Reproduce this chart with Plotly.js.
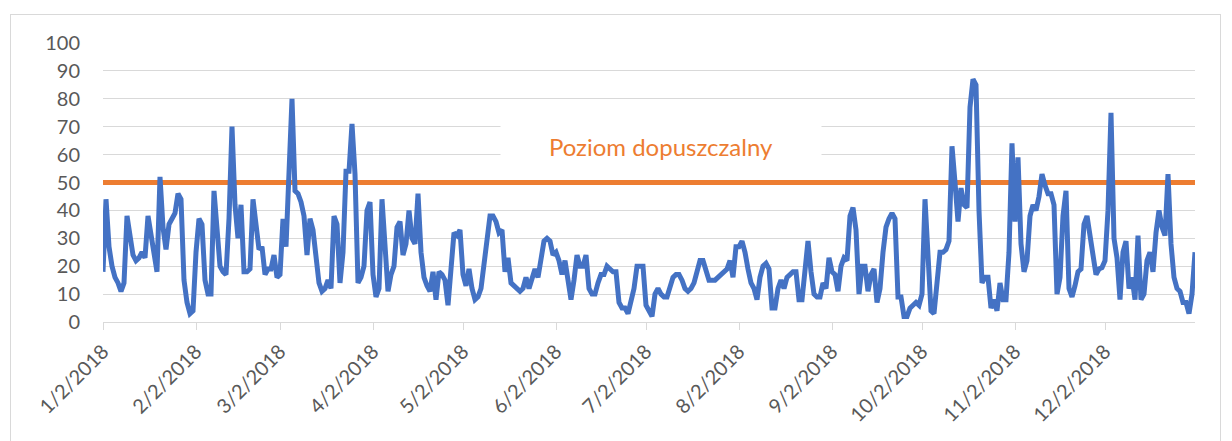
<!DOCTYPE html>
<html>
<head>
<meta charset="utf-8">
<script src="https://cdn.plot.ly/plotly-3.0.1.min.js"></script>
<style>
  html, body { margin: 0; padding: 0; background: #ffffff; }
  #wrap { position: relative; width: 1232px; height: 441px; overflow: hidden; }
  #frame { position: absolute; left: 10px; top: 14px; width: 1211px; height: 440px; border: 1px solid #d9d9d9; box-sizing: border-box; pointer-events: none; }
  #chart { position: absolute; left: 0; top: 0; width: 1232px; height: 441px; }
</style>
</head>
<body>
<div id="wrap">
  <div id="chart"></div>
  <div id="frame"></div>
</div>
<script>
// ---- Data ----
const startDate = '2018-01-02';
const seriesValues = [
  18, 44, 27, 20, 16, 14, 11, 14, 38, 30,
  24, 22, 23, 25, 23, 38, 31, 25, 18, 52,
  34, 26, 35, 37, 39, 46, 44, 15, 7, 3,
  4, 25, 37, 35, 15, 10, 10, 47, 30, 20,
  18, 17, 37, 70, 42, 30, 42, 18, 18, 19,
  44, 33, 26, 27, 17, 19, 19, 24, 16, 17,
  37, 27, 55, 80, 47, 46, 43, 38, 24, 37,
  33, 25, 14, 11, 12, 15, 12, 38, 35, 14,
  25, 54, 54, 71, 53, 14, 16, 20, 40, 43,
  17, 9, 12, 44, 25, 11, 17, 20, 34, 36,
  24, 28, 40, 30, 28, 46, 25, 16, 13, 11,
  18, 8, 18, 17, 15, 6, 19, 32, 31, 33,
  17, 13, 19, 12, 8, 9, 12, 20, 28, 38,
  38, 36, 32, 33, 18, 23, 14, 13, 12, 11,
  12, 16, 12, 15, 19, 16, 22, 29, 30, 29,
  24, 25, 22, 17, 22, 16, 8, 15, 24, 20,
  20, 24, 12, 10, 10, 14, 17, 17, 20, 19,
  18, 18, 7, 5, 5, 3, 8, 12, 20, 20,
  20, 6, 4, 2, 10, 12, 10, 9, 9, 13,
  16, 17, 17, 15, 12, 11, 12, 14, 19, 22,
  22, 18, 15, 15, 15, 16, 17, 18, 19, 22,
  16, 27, 27, 29, 25, 19, 14, 12, 8, 16,
  20, 21, 19, 5, 5, 12, 15, 12, 16, 17,
  18, 18, 8, 8, 19, 29, 18, 10, 9, 9,
  14, 12, 23, 18, 17, 11, 20, 23, 22, 38,
  41, 33, 10, 20, 20, 11, 17, 19, 7, 12,
  25, 34, 37, 39, 37, 9, 9, 2, 2, 5,
  6, 7, 6, 10, 44, 19, 4, 3, 16, 25,
  25, 26, 29, 63, 50, 36, 48, 42, 41, 77,
  87, 85, 40, 14, 16, 16, 5, 8, 4, 14,
  8, 8, 25, 64, 36, 59, 28, 18, 22, 38,
  42, 40, 45, 53, 49, 46, 46, 42, 10, 16,
  38, 47, 12, 9, 13, 18, 19, 35, 38, 31,
  24, 17, 19, 19.5, 22, 40, 75, 30, 23, 8,
  25, 29, 12, 16, 8, 31, 8, 10, 22, 25,
  18, 32, 40, 34, 31, 53, 28, 16, 12, 11,
  7, 7, 3, 10, 25
];
const limitValue = 50;
const limitLabel = 'Poziom dopuszczalny';
const tickDates = ['2018-01-02','2018-02-02','2018-03-02','2018-04-02','2018-05-02','2018-06-02',
                   '2018-07-02','2018-08-02','2018-09-02','2018-10-02','2018-11-02','2018-12-02'];
const tickLabels = ['1/2/2018','2/2/2018','3/2/2018','4/2/2018','5/2/2018','6/2/2018',
                    '7/2/2018','8/2/2018','9/2/2018','10/2/2018','11/2/2018','12/2/2018'];
const yTicks = [0,10,20,30,40,50,60,70,80,90,100];

// daily dates from start
function isoDay(i) {
  const d = new Date(startDate + 'T00:00:00Z');
  d.setUTCDate(d.getUTCDate() + i);
  return d.toISOString().slice(0, 10);
}
const dates = seriesValues.map((_, i) => isoDay(i));
const firstDate = dates[0];
const lastDate = dates[dates.length - 1];

const FONT = 'Lato, "Open Sans", sans-serif';

const traces = [
  {
    x: [firstDate, lastDate],
    y: [limitValue, limitValue],
    type: 'scatter', mode: 'lines',
    line: { color: '#ED7D31', width: 5 },
    hoverinfo: 'skip', showlegend: false
  },
  {
    x: dates,
    y: seriesValues,
    type: 'scatter', mode: 'lines',
    line: { color: '#4472C4', width: 5, shape: 'linear' },
    showlegend: false
  }
];

const layout = {
  width: 1232, height: 441,
  margin: { l: 103, r: 37, t: 43, b: 119, pad: 0 },
  paper_bgcolor: 'rgba(0,0,0,0)',
  plot_bgcolor: 'rgba(0,0,0,0)',
  font: { family: FONT, size: 20, color: '#595959' },
  showlegend: false,
  xaxis: {
    type: 'date',
    range: [firstDate, lastDate],
    tickmode: 'array',
    tickvals: tickDates,
    ticktext: tickLabels,
    tickangle: -45,
    ticks: 'outside', ticklen: 7, tickwidth: 1, tickcolor: '#d9d9d9',
    showline: true, linecolor: '#d9d9d9', linewidth: 1,
    showgrid: false, zeroline: false,
    tickfont: { family: FONT, size: 20, color: '#595959' },
    ticklabelstandoff: 2
  },
  yaxis: {
    range: [0, 100],
    tickmode: 'array',
    tickvals: yTicks,
    ticks: '',
    showgrid: true, gridcolor: '#d9d9d9', gridwidth: 1,
    zeroline: false, showline: false,
    tickfont: { family: FONT, size: 20, color: '#595959' },
    ticklabelstandoff: 22
  },
  annotations: [
    {
      xref: 'paper', yref: 'paper',
      x: 0.511, y: 0.631,
      xanchor: 'center', yanchor: 'middle',
      text: limitLabel,
      showarrow: false,
      font: { family: FONT, size: 24, color: '#ED7D31' },
      bgcolor: '#ffffff',
      width: 318, height: 48
    }
  ]
};

Plotly.newPlot('chart', traces, layout, { staticPlot: true, displayModeBar: false });
</script>
</body>
</html>
